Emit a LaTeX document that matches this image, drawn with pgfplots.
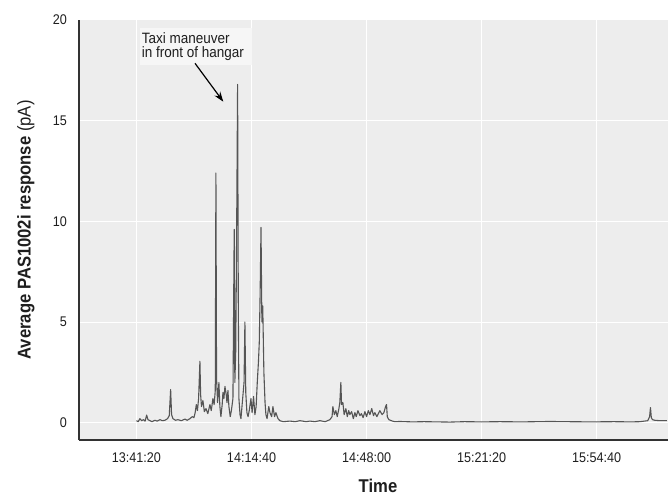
\documentclass[border=0pt]{standalone}
\usepackage{fontspec}
\setmainfont{Liberation Sans}[FakeStretch=0.9]
\usepackage{pgfplots}
\pgfplotsset{compat=1.18}
\usetikzlibrary{arrows.meta}
\definecolor{plotbg}{RGB}{237,237,237}
\definecolor{boxbg}{RGB}{246,246,246}
\definecolor{trace}{RGB}{85,85,85}
\definecolor{axiscol}{RGB}{50,50,50}
\definecolor{txt}{RGB}{30,30,30}
\begin{document}
\begin{tikzpicture}[x=1pt,y=1pt]
\useasboundingbox (0,0) rectangle (668,496);
\begin{axis}[
  at={(79pt,56pt)}, anchor=south west,
  width=589pt, height=420pt, scale only axis,
  xmin=-999, xmax=9240, ymin=-0.86, ymax=20,
  axis x line=bottom, axis y line=left,
  axis line style={-, color=axiscol, line width=1.4pt},
  axis background/.style={fill=plotbg},
  xtick={0,2000,4000,6000,8000},
  xticklabels={13:41:20,14:14:40,14:48:00,15:21:20,15:54:40},
  ytick={0,5,10,15,20},
  major tick length=0pt,
  grid=major,
  major grid style={white, line width=1pt},
  /pgf/number format/assume math mode=true,
  tick label style={font=\fontsize{14}{16}\selectfont, text=txt},
  xticklabel style={anchor=north, inner sep=0pt, yshift=-13pt},
  yticklabel style={anchor=east, inner sep=0pt, xshift=-12pt},
  xlabel={\textbf{Time}},
  xlabel style={at={(axis description cs:0.5076,-0.1238)}, anchor=base, inner sep=0pt, font=\fontsize{18.5}{20}\selectfont, text=txt},
  ylabel={\textbf{Average PAS1002i response} (pA)},
  ylabel style={at={(axis description cs:-0.0823,0.5)}, anchor=base, rotate=0, font=\fontsize{18.5}{20}\selectfont, text=txt},
  clip=true,
]
\addplot[trace, line width=1.1pt, line join=round] table {
t v
0 0.10
30 0.05
60 0.20
90 0.10
120 0.15
150 0.08
177 0.38
200 0.15
235 0.10
270 0.05
320 0.12
360 0.08
408 0.15
450 0.10
495 0.12
540 0.20
570 0.35
594 1.65
610 0.40
634 0.20
680 0.12
721 0.15
780 0.10
843 0.18
880 0.12
930 0.20
970 0.30
999 0.25
1020 0.50
1040 0.90
1060 0.60
1080 1.20
1103 3.05
1115 1.40
1130 0.80
1155 1.10
1180 0.55
1208 0.70
1240 0.45
1277 0.90
1300 0.60
1329 1.20
1350 0.90
1370 1.60
1381 12.40
1392 2.20
1410 1.00
1433 2.00
1450 0.80
1468 0.30
1490 0.90
1503 1.50
1520 1.20
1538 1.80
1560 1.40
1573 1.00
1590 1.60
1607 0.80
1630 0.30
1650 0.60
1677 1.20
1699 9.60
1710 2.00
1725 3.50
1738 8.00
1758 16.80
1770 6.00
1781 1.20
1800 0.40
1816 0.20
1840 1.00
1870 2.00
1885 5.00
1900 1.50
1920 0.50
1940 0.30
1960 0.60
1990 1.20
2010 0.50
2035 1.30
2059 0.40
2080 0.80
2100 2.00
2120 3.00
2135 4.00
2150 6.50
2165 9.70
2180 5.00
2195 5.80
2215 2.50
2235 1.00
2250 0.40
2270 0.20
2300 0.80
2320 0.50
2350 0.30
2372 0.80
2400 0.30
2424 0.50
2460 0.20
2493 0.10
2550 0.05
2667 0.08
2760 0.05
2841 0.10
2950 0.05
3015 0.08
3100 0.05
3189 0.10
3280 0.05
3362 0.15
3400 0.30
3414 0.80
3440 0.40
3466 0.60
3490 0.30
3519 0.70
3535 1.00
3553 2.00
3565 0.90
3588 1.00
3610 0.40
3640 0.70
3665 0.30
3690 0.60
3710 0.40
3740 0.55
3770 0.20
3797 0.50
3820 0.30
3850 0.60
3884 0.35
3910 0.45
3940 0.25
3971 0.55
4000 0.30
4030 0.60
4058 0.40
4090 0.70
4120 0.35
4144 0.50
4180 0.30
4231 0.60
4270 0.40
4301 0.50
4330 0.80
4347 0.90
4360 0.30
4387 0.15
4450 0.08
4492 0.05
4578 0.06
4800 0.04
5000 0.05
5447 0.03
5700 0.05
6000 0.04
6316 0.05
6700 0.04
7185 0.06
7500 0.05
7900 0.04
8300 0.05
8600 0.04
8749 0.05
8888 0.10
8920 0.30
8935 0.75
8950 0.25
8970 0.15
9010 0.12
9100 0.10
9218 0.10
};
\end{axis}
% annotation
\fill[boxbg] (140,431) rectangle (251.7,467.7);
\node[anchor=base west, inner sep=0pt, font=\fontsize{15}{14}\selectfont, text=txt] at (141.7,452.7) {Taxi maneuver};
\node[anchor=base west, inner sep=0pt, font=\fontsize{15}{14}\selectfont, text=txt] at (141.7,438.7) {in front of hangar};
\draw[line width=1.2pt, -{Stealth[length=10pt,width=7pt]}] (195,432.7) -- (223.3,394.3);
\end{tikzpicture}
\end{document}
